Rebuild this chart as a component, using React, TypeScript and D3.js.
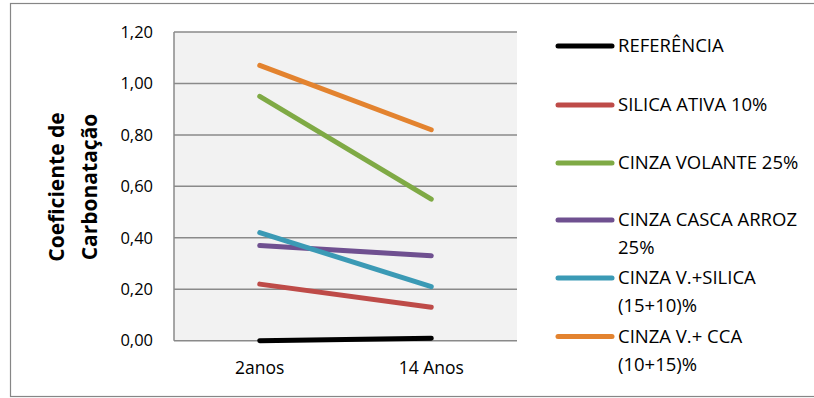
import React from "react";
import * as d3 from "d3";

const categories = ["2anos", "14 Anos"];
const seriesNames = [
  ["REFERÊNCIA"],
  ["SILICA ATIVA 10%"],
  ["CINZA VOLANTE 25%"],
  ["CINZA CASCA ARROZ", "25%"],
  ["CINZA V.+SILICA", "(15+10)%"],
  ["CINZA V.+ CCA", "(10+15)%"],
];
const seriesColors = ["#000000", "#be4b48", "#7faa45", "#6f5090", "#3b9ab5", "#e3832f"];
const seriesValues = [
  [0.0, 0.01],
  [0.22, 0.13],
  [0.95, 0.55],
  [0.37, 0.33],
  [0.42, 0.21],
  [1.07, 0.82],
];
const yTicks = [0, 0.2, 0.4, 0.6, 0.8, 1.0, 1.2];
const yTitle = ["Coeficiente de", "Carbonatação"];

const FONT = "'Open Sans', 'Noto Sans', sans-serif";

export default function App() {
  const W = 814, H = 398;
  const plot = { left: 174, right: 517, top: 32, bottom: 340.7 };
  const x = d3.scaleBand().domain(categories).range([plot.left, plot.right]);
  const y = d3.scaleLinear().domain([0, 1.2]).range([plot.bottom, plot.top]);
  const line = d3
    .line<number>()
    .x((_, i) => (x(categories[i]) as number) + x.bandwidth() / 2)
    .y((d) => y(d));
  const fmt = (v: number) => v.toFixed(2).replace(".", ",");
  const legendY = [46, 105, 163, 220, 278, 336.5];

  return (
    <svg
      width={W}
      height={H}
      style={{ position: "absolute", left: 0, top: 0 }}
      fontFamily={FONT}
    >
      <rect x={0} y={0} width={W} height={H} fill="#fff" />
      <rect x={10.5} y={3.5} width={W + 10} height={393} fill="none" stroke="#868686" strokeWidth={1.2} />
      <rect
        x={plot.left}
        y={plot.top}
        width={plot.right - plot.left}
        height={plot.bottom - plot.top}
        fill="#f2f2f2"
      />
      {yTicks.map((t) => (
        <line
          key={t}
          x1={plot.left}
          x2={plot.right}
          y1={y(t)}
          y2={y(t)}
          stroke="#8a8a8a"
          strokeWidth={1.5}
        />
      ))}
      <line x1={plot.left} x2={plot.left} y1={plot.top} y2={plot.bottom} stroke="#8a8a8a" strokeWidth={1.5} />
      {yTicks.map((t) => (
        <text key={t} x={153} y={y(t)} dy="0.35em" textAnchor="end" fontSize={16.5} fill="#000">
          {fmt(t)}
        </text>
      ))}
      {categories.map((c) => (
        <text
          key={c}
          x={(x(c) as number) + x.bandwidth() / 2}
          y={368}
          dy="0.35em"
          textAnchor="middle"
          fontSize={17.5}
          fill="#000"
        >
          {c}
        </text>
      ))}
      <g transform="translate(73,187) rotate(-90)">
        {yTitle.map((t, i) => (
          <text key={t} x={0} y={(i - 0.5) * 33} dy="0.35em" textAnchor="middle" fontSize={21} fontWeight="bold">
            {t}
          </text>
        ))}
      </g>
      {seriesValues.map((vals, i) => (
        <path
          key={i}
          d={line(vals) as string}
          fill="none"
          stroke={seriesColors[i]}
          strokeWidth={5}
          strokeLinecap="round"
        />
      ))}
      {seriesNames.map((lines, i) => (
        <g key={i}>
          <line
            x1={558}
            x2={612}
            y1={legendY[i]}
            y2={legendY[i]}
            stroke={seriesColors[i]}
            strokeWidth={5}
            strokeLinecap="round"
          />
          {lines.map((t, j) => (
            <text key={j} x={618} y={legendY[i] + j * 28} dy="0.35em" fontSize={18.5} fill="#000">
              {t}
            </text>
          ))}
        </g>
      ))}
    </svg>
  );
}
